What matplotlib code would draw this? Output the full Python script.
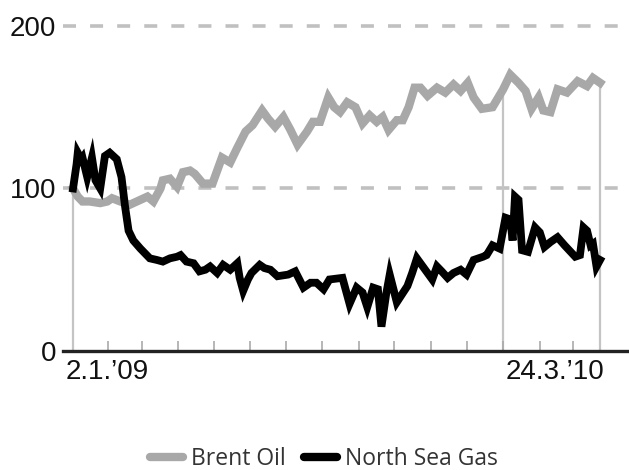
import matplotlib
matplotlib.use("Agg")
import matplotlib.pyplot as plt
from matplotlib.lines import Line2D
import matplotlib.transforms as mtransforms

# ---- data (days since 2 Jan 2009, index values) ----
brent_days = [0, 4, 8, 14, 23, 29, 33, 40, 48, 54, 63, 68, 74, 76, 82, 88, 93, 99, 103, 110,
              118, 126, 133, 139, 146, 152, 160, 165, 171, 178, 184, 190, 198, 203, 209, 216,
              221, 226, 232, 239, 245, 251, 257, 262, 267, 274, 279, 284, 289, 294, 300, 308,
              315, 322, 328, 334, 339, 346, 355, 364, 370, 377, 383, 388, 394, 398, 404, 410,
              418, 427, 435, 440, 446]
brent_vals = [100, 95, 92, 92, 91, 92, 94, 92, 90, 92, 95, 92, 100, 105, 106, 101, 110, 111, 109, 103,
              103, 119, 116, 125, 135, 139, 148, 143, 138, 144, 136, 127, 135, 141, 141, 156,
              150, 147, 153, 150, 140, 145, 141, 144, 136, 142, 142, 150, 162, 162, 157, 162,
              159, 164, 160, 165, 156, 149, 150, 161, 170, 165, 160, 149, 156, 148, 147, 161,
              159, 166, 163, 168, 165]

gas_days = [0, 3, 4, 7, 8, 12, 16, 19, 23, 27, 31, 37, 41, 44, 47, 51, 57, 65, 71, 76,
            82, 88, 91, 96, 102, 107, 112, 116, 122, 127, 133, 139, 141, 144, 148, 151, 158,
            162, 167, 173, 182, 188, 195, 201, 206, 212, 217, 228, 234, 240, 245, 249, 254,
            258, 261, 265, 268, 274, 283, 287, 291, 296, 304, 308, 312, 317, 322, 328, 333,
            339, 347, 350, 355, 361, 366, 370, 372, 374, 377, 380, 385, 391, 395, 399, 404,
            410, 416, 425, 429, 432, 435, 438, 440, 443, 446]
gas_vals = [100, 115, 122, 118, 119, 107, 119, 105, 100, 120, 122, 118, 107, 89, 74, 68, 63, 57, 56, 55,
            57, 58, 59, 55, 54, 49, 50, 52, 48, 53, 50, 54, 45, 37, 44, 48, 53,
            51, 50, 46, 47, 49, 39, 42, 42, 38, 44, 45, 29, 39, 36, 27, 39,
            38, 15, 35, 47, 30, 40, 48, 57, 52, 44, 52, 49, 45, 48, 50, 47,
            56, 58, 59, 65, 63, 82, 81, 68, 95, 93, 62, 61, 76, 73, 64, 67,
            70, 65, 58, 59, 76, 74, 65, 66, 52, 56]

month_ticks = [30, 58, 89, 119, 150, 180, 211, 242, 272, 303, 333, 364, 395, 423]
drop_days = [0, 364, 446]
y_ticks = [0, 100, 200]
first_label = "2.1.\u201909"
last_label = "24.3.\u201910"
series_names = ["Brent Oil", "North Sea Gas"]

GRAY = "#a8a8a8"

fig = plt.figure(figsize=(6.29, 4.70), dpi=100)
ax = fig.add_axes([63 / 629, 1 - 351 / 470, 1 - 63 / 629, (351 - 10) / 470])
ax.set_xlim(-8.5, 470.5)
ax.set_ylim(0, 209.8)

for s in ["top", "right", "left"]:
    ax.spines[s].set_visible(False)
ax.spines["bottom"].set_linewidth(2.4)
ax.spines["bottom"].set_color("#222222")
ax.spines["bottom"].set_zorder(5)

# dashed gridlines
for yv in [100, 200]:
    ln = ax.axhline(yv, color="#c0c0c0", lw=2.6, zorder=0)
    ln.set_dashes((3.6, 3.9))

# drop lines from Brent
for d in drop_days:
    i = brent_days.index(d)
    ax.vlines(d, 0, brent_vals[i], color="#c4c4c4", lw=1.6, zorder=1)

ax.plot(brent_days, brent_vals, color=GRAY, lw=6.0, solid_joinstyle="miter", zorder=2)
ax.plot(gas_days, gas_vals, color="black", lw=5.6, solid_joinstyle="miter", zorder=3)

# ticks
ax.set_xticks(month_ticks)
ax.set_xticklabels([])
ax.tick_params(axis="x", direction="in", length=7.5, width=1.2, color="#aaaaaa")
ax.set_yticks(y_ticks)
ax.set_yticklabels([str(v) for v in y_ticks], fontsize=20, family="Liberation Sans", color="#111111")
ax.tick_params(axis="y", length=0, pad=5)

# date labels
trans = mtransforms.blended_transform_factory(ax.transData, ax.transAxes)
ax.annotate(first_label, xy=(-6.5, 0), xycoords=trans, xytext=(0, -6), textcoords="offset points",
            ha="left", va="top", fontsize=20, family="Liberation Sans", color="#111111")
ax.annotate(last_label, xy=(450, 0), xycoords=trans, xytext=(0, -6), textcoords="offset points",
            ha="right", va="top", fontsize=20, family="Liberation Sans", color="#111111")

handles = [Line2D([], [], color=GRAY, lw=6.0, solid_capstyle="round"),
           Line2D([], [], color="black", lw=6.0, solid_capstyle="round")]
fig.legend(handles, series_names, loc="center", bbox_to_anchor=(0.515, 1 - 459 / 470), ncol=2,
           frameon=False, prop={"family": "Open Sans", "size": 16.5}, labelcolor="#333333",
           handlelength=1.45, handletextpad=0.35, columnspacing=0.8, borderpad=0.1)

fig.savefig("out.png", dpi=100)
